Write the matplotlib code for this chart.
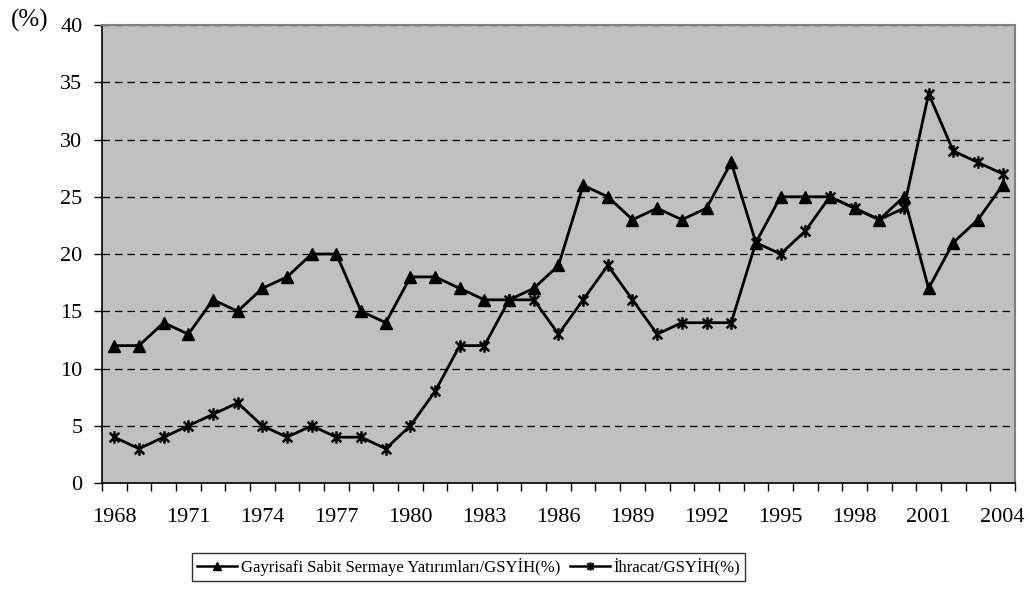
import numpy as np
import matplotlib.pyplot as plt
from matplotlib.path import Path
from matplotlib.lines import Line2D

plt.rcParams['font.family'] = ['Liberation Serif', 'DejaVu Serif']

# yearly data, 1968-2004
years = list(range(1968, 2005))
yatirim = [12, 12, 14, 13, 16, 15, 17, 18, 20, 20, 15, 14, 18, 18, 17, 16, 16, 17, 19,
           26, 25, 23, 24, 23, 24, 28, 21, 25, 25, 25, 24, 23, 25, 17, 21, 23, 26]
ihracat = [4, 3, 4, 5, 6, 7, 5, 4, 5, 4, 4, 3, 5, 8, 12, 12, 16, 16, 13,
           16, 19, 16, 13, 14, 14, 14, 21, 20, 22, 25, 24, 23, 24, 34, 29, 28, 27]
label_yatirim = 'Gayrisafi Sabit Sermaye Yatırımları/GSYİH(%)'
label_ihracat = 'İhracat/GSYİH(%)'

# excel style star: X with a vertical bar
star = Path([(-1, -1), (1, 1), (-1, 1), (1, -1), (0, -1.3), (0, 1.3)],
            [Path.MOVETO, Path.LINETO, Path.MOVETO, Path.LINETO, Path.MOVETO, Path.LINETO])

fig = plt.figure(figsize=(10.3, 5.96), dpi=100)
ax = fig.add_axes([0.099, 0.1896, 0.8864, 0.7684])
ax.set_facecolor('#C0C0C0')

x = np.arange(len(years))
ax.plot(x, yatirim, color='black', lw=2, marker='^', ms=8, zorder=3)
ax.plot(x, ihracat, color='black', lw=2, marker=star, ms=9, mew=1.8, zorder=3)

ax.set_xlim(-0.5, len(years) - 0.5)
ax.set_ylim(0, 40)
ax.set_yticks(range(0, 41, 5))
ax.yaxis.grid(True, color='black', ls=(0, (6, 4)), lw=0.9)
ax.set_axisbelow(True)

# tick marks at category boundaries, labels every 3 years
ax.set_xticks(np.arange(-0.5, len(years)), minor=True)
ax.set_xticks(x[::3])
ax.set_xticklabels([str(y) for y in years[::3]])
ax.tick_params(axis='x', which='major', length=0, pad=18, labelsize=16)
ax.tick_params(axis='x', which='minor', length=6, width=1, direction='out')
ax.tick_params(axis='y', length=6, width=1, direction='out', labelsize=16, pad=8)

for s in ['left', 'bottom']:
    ax.spines[s].set_color('black')
    ax.spines[s].set_linewidth(1.2)
for s in ['top', 'right']:
    ax.spines[s].set_color('#808080')
    ax.spines[s].set_linewidth(1.5)

fig.text(0.011, 0.966, '(%)', fontsize=18, ha='left', va='center')

# legend with smaller markers, as in the original
handles = [Line2D([], [], color='black', lw=1.8, marker='^', ms=6),
           Line2D([], [], color='black', lw=1.8, marker=star, ms=6, mew=1.5)]
leg = fig.legend(handles, [label_yatirim, label_ihracat], loc='center',
                 bbox_to_anchor=(0.455, 0.049), ncol=2, frameon=True,
                 fancybox=False, edgecolor='black', fontsize=12, handlelength=2.4,
                 columnspacing=0.6, handletextpad=0.2, borderpad=0.3)
leg.get_frame().set_linewidth(1)

fig.savefig('out.png', dpi=100)
